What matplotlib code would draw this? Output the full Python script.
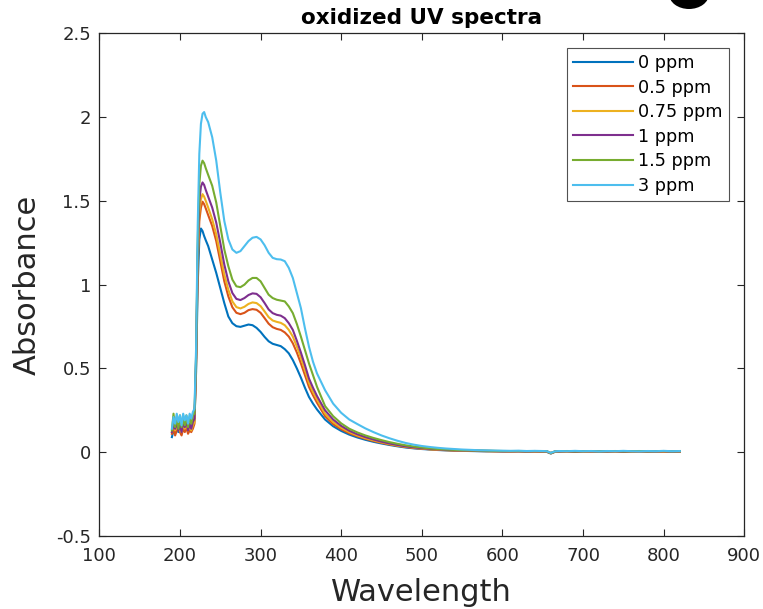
import matplotlib
matplotlib.use("Agg")
import matplotlib.pyplot as plt
from matplotlib.patches import Ellipse

plt.rcParams['font.family'] = ['DejaVu Sans']

wavelength_nm = [190, 192, 194, 196, 198, 200, 202, 204, 206, 208, 210, 212, 214, 216, 218,
                 220, 222, 224, 226, 228, 230, 232, 235,
                 240, 245, 250, 255, 260, 265, 270, 275, 280, 285, 290, 295, 300, 305, 310,
                 315, 320, 325, 330, 335, 340, 345, 350, 355, 360, 365, 370,
                 380, 390, 400, 410, 420, 430, 440, 450, 460, 470, 480, 490, 500, 510, 520,
                 530, 540, 550, 560, 570, 580, 590, 600, 610, 620, 630, 640, 650,
                 655, 660, 665,
                 670, 680, 690, 700, 710, 720, 730, 740, 750, 760, 770, 780, 790, 800, 810, 820]

abs_0ppm = [0.09, 0.13, 0.11, 0.16, 0.12, 0.15, 0.11, 0.16, 0.13, 0.17, 0.12, 0.16, 0.14, 0.17, 0.19,
            0.48, 1.00, 1.27, 1.335, 1.32, 1.29, 1.265, 1.23,
            1.15, 1.07, 0.98, 0.89, 0.81, 0.77, 0.752, 0.748, 0.755, 0.762, 0.758, 0.742, 0.718,
            0.688, 0.662, 0.647, 0.64, 0.633, 0.615, 0.59, 0.55, 0.50, 0.445, 0.385, 0.33, 0.29, 0.255,
            0.195, 0.155, 0.127, 0.105, 0.088, 0.074, 0.062, 0.052, 0.043, 0.035, 0.028, 0.023, 0.019,
            0.016, 0.013, 0.011, 0.009, 0.008, 0.007, 0.006, 0.005, 0.005, 0.004, 0.004, 0.005,
            0.003, 0.004, 0.003,
            0.002, -0.008, 0.002,
            0.003, 0.004, 0.002, 0.004, 0.003, 0.005, 0.003, 0.004, 0.002, 0.004, 0.003, 0.005,
            0.003, 0.004, 0.003, 0.004]

abs_05ppm = [0.11, 0.14, 0.10, 0.13, 0.15, 0.12, 0.10, 0.14, 0.12, 0.15, 0.11, 0.13, 0.12, 0.14, 0.17,
             0.52, 1.10, 1.38, 1.46, 1.495, 1.48, 1.455, 1.415,
             1.35, 1.26, 1.14, 1.02, 0.93, 0.865, 0.832, 0.824, 0.832, 0.848, 0.854, 0.85, 0.832,
             0.80, 0.767, 0.746, 0.736, 0.73, 0.715, 0.69, 0.65, 0.595, 0.53, 0.46, 0.39, 0.34, 0.295,
             0.215, 0.168, 0.137, 0.113, 0.095, 0.080, 0.067, 0.056, 0.046, 0.038, 0.031, 0.025, 0.021,
             0.017, 0.014, 0.012, 0.010, 0.009, 0.008, 0.007, 0.006, 0.005, 0.005, 0.004, 0.005,
             0.004, 0.004, 0.003,
             0.003, -0.007, 0.002,
             0.004, 0.003, 0.004, 0.002, 0.004, 0.003, 0.004, 0.003, 0.004, 0.002, 0.004, 0.003,
             0.004, 0.003, 0.004, 0.003]

abs_075ppm = [0.12, 0.16, 0.13, 0.15, 0.17, 0.13, 0.12, 0.16, 0.14, 0.17, 0.13, 0.15, 0.13, 0.16, 0.18,
              0.54, 1.14, 1.43, 1.51, 1.54, 1.525, 1.50, 1.46,
              1.39, 1.30, 1.18, 1.06, 0.97, 0.90, 0.866, 0.858, 0.868, 0.885, 0.894, 0.89, 0.872,
              0.84, 0.806, 0.786, 0.778, 0.772, 0.758, 0.73, 0.69, 0.63, 0.565, 0.49, 0.415, 0.36, 0.315,
              0.23, 0.18, 0.146, 0.12, 0.10, 0.084, 0.071, 0.059, 0.049, 0.040, 0.033, 0.027, 0.022,
              0.018, 0.015, 0.013, 0.011, 0.010, 0.009, 0.008, 0.007, 0.006, 0.006, 0.005, 0.006,
              0.005, 0.005, 0.004,
              0.004, -0.006, 0.003,
              0.005, 0.004, 0.005, 0.003, 0.005, 0.004, 0.005, 0.004, 0.005, 0.003, 0.005, 0.004,
              0.005, 0.004, 0.005, 0.004]

abs_1ppm = [0.12, 0.17, 0.14, 0.18, 0.13, 0.16, 0.12, 0.18, 0.15, 0.19, 0.13, 0.17, 0.14, 0.18, 0.20,
            0.56, 1.18, 1.50, 1.585, 1.61, 1.595, 1.565, 1.525,
            1.46, 1.37, 1.25, 1.12, 1.02, 0.95, 0.915, 0.908, 0.92, 0.938, 0.948, 0.945, 0.925,
            0.89, 0.852, 0.83, 0.82, 0.815, 0.80, 0.77, 0.73, 0.665, 0.595, 0.52, 0.44, 0.385, 0.335,
            0.25, 0.195, 0.157, 0.128, 0.107, 0.090, 0.076, 0.063, 0.052, 0.043, 0.035, 0.029, 0.024,
            0.020, 0.017, 0.014, 0.012, 0.011, 0.010, 0.009, 0.008, 0.007, 0.006, 0.006, 0.006,
            0.005, 0.006, 0.005,
            0.005, -0.005, 0.004,
            0.005, 0.006, 0.004, 0.005, 0.006, 0.004, 0.005, 0.006, 0.004, 0.005, 0.006, 0.004,
            0.005, 0.006, 0.004, 0.005]

abs_15ppm = [0.13, 0.23, 0.15, 0.21, 0.14, 0.22, 0.15, 0.20, 0.16, 0.22, 0.15, 0.21, 0.17, 0.22, 0.23,
             0.58, 1.25, 1.60, 1.71, 1.74, 1.725, 1.695, 1.655,
             1.59, 1.49, 1.35, 1.21, 1.11, 1.03, 0.99, 0.985, 1.00, 1.025, 1.04, 1.04, 1.02,
             0.98, 0.94, 0.92, 0.91, 0.905, 0.90, 0.87, 0.83, 0.765, 0.69, 0.61, 0.53, 0.46, 0.39,
             0.275, 0.215, 0.172, 0.14, 0.118, 0.10, 0.085, 0.072, 0.06, 0.05, 0.041, 0.034, 0.028,
             0.023, 0.019, 0.016, 0.014, 0.012, 0.011, 0.01, 0.009, 0.008, 0.007, 0.007, 0.007,
             0.006, 0.007, 0.006,
             0.006, -0.005, 0.005,
             0.006, 0.007, 0.005, 0.006, 0.007, 0.005, 0.006, 0.007, 0.005, 0.006, 0.007, 0.005,
             0.006, 0.007, 0.005, 0.006]

abs_3ppm = [0.14, 0.21, 0.17, 0.23, 0.18, 0.22, 0.16, 0.23, 0.19, 0.22, 0.17, 0.23, 0.20, 0.24, 0.26,
            0.62, 1.35, 1.78, 1.96, 2.02, 2.03, 2.00, 1.97,
            1.88, 1.74, 1.55, 1.38, 1.27, 1.21, 1.19, 1.20, 1.23, 1.26, 1.28, 1.285, 1.27,
            1.235, 1.19, 1.16, 1.152, 1.15, 1.14, 1.10, 1.04, 0.95, 0.86, 0.74, 0.63, 0.54, 0.47,
            0.37, 0.29, 0.235, 0.195, 0.168, 0.142, 0.12, 0.10, 0.083, 0.068, 0.055, 0.045, 0.037,
            0.031, 0.026, 0.022, 0.019, 0.016, 0.014, 0.012, 0.011, 0.010, 0.009, 0.008, 0.009,
            0.007, 0.008, 0.007,
            0.006, -0.004, 0.005,
            0.007, 0.006, 0.008, 0.006, 0.007, 0.005, 0.007, 0.006, 0.008, 0.006, 0.005, 0.007,
            0.006, 0.008, 0.006, 0.007]

series_labels = ['0 ppm', '0.5 ppm', '0.75 ppm', '1 ppm', '1.5 ppm', '3 ppm']
series_values = [abs_0ppm, abs_05ppm, abs_075ppm, abs_1ppm, abs_15ppm, abs_3ppm]
series_colors = ['#0072BD', '#D95319', '#EDB120', '#7E2F8E', '#77AC30', '#4DBEEE']

x_ticks = [100, 200, 300, 400, 500, 600, 700, 800, 900]
y_ticks = [-0.5, 0, 0.5, 1, 1.5, 2, 2.5]
y_tick_labels = ['-0.5', '0', '0.5', '1', '1.5', '2', '2.5']

ink = '#262626'

fig = plt.figure(figsize=(7.63, 6.09), dpi=100)
ax = fig.add_axes([0.1302, 0.1199, 0.8453, 0.8254])

for vals, lab, col in zip(series_values, series_labels, series_colors):
    ax.plot(wavelength_nm, vals, color=col, lw=1.5, label=lab)

ax.set_xlim(100, 900)
ax.set_ylim(-0.5, 2.5)
ax.set_xticks(x_ticks)
ax.set_yticks(y_ticks)
ax.set_yticklabels(y_tick_labels)
ax.tick_params(direction='in', length=5, width=0.8, colors=ink, labelsize=13,
               top=True, right=True)
ax.tick_params(axis='x', pad=8)
ax.tick_params(axis='y', pad=6)
for sp in ax.spines.values():
    sp.set_color(ink)
    sp.set_linewidth(0.9)

ax.set_xlabel('Wavelength', fontsize=22, color=ink, labelpad=9)
ax.set_ylabel('Absorbance', fontsize=22, color=ink, labelpad=10)
ax.set_title('oxidized UV spectra', fontsize=15.5, fontweight='bold', color='black', pad=6.5)

leg = ax.legend(loc='upper right', bbox_to_anchor=(0.976, 0.971), borderaxespad=0,
                fontsize=12.7, frameon=True, fancybox=False, handlelength=3.4,
                handletextpad=0.3, labelspacing=0.37, borderpad=0.35)
leg.get_frame().set_edgecolor(ink)
leg.get_frame().set_linewidth(0.8)
for t in leg.get_texts():
    t.set_color('black')

# partial panel marker at the top edge
fig.patches.append(Ellipse((689 / 763, 1 - (-6) / 609), 40 / 763, 30 / 609,
                           transform=fig.transFigure, facecolor='black', edgecolor='none'))

fig.savefig('out.png', dpi=100)
